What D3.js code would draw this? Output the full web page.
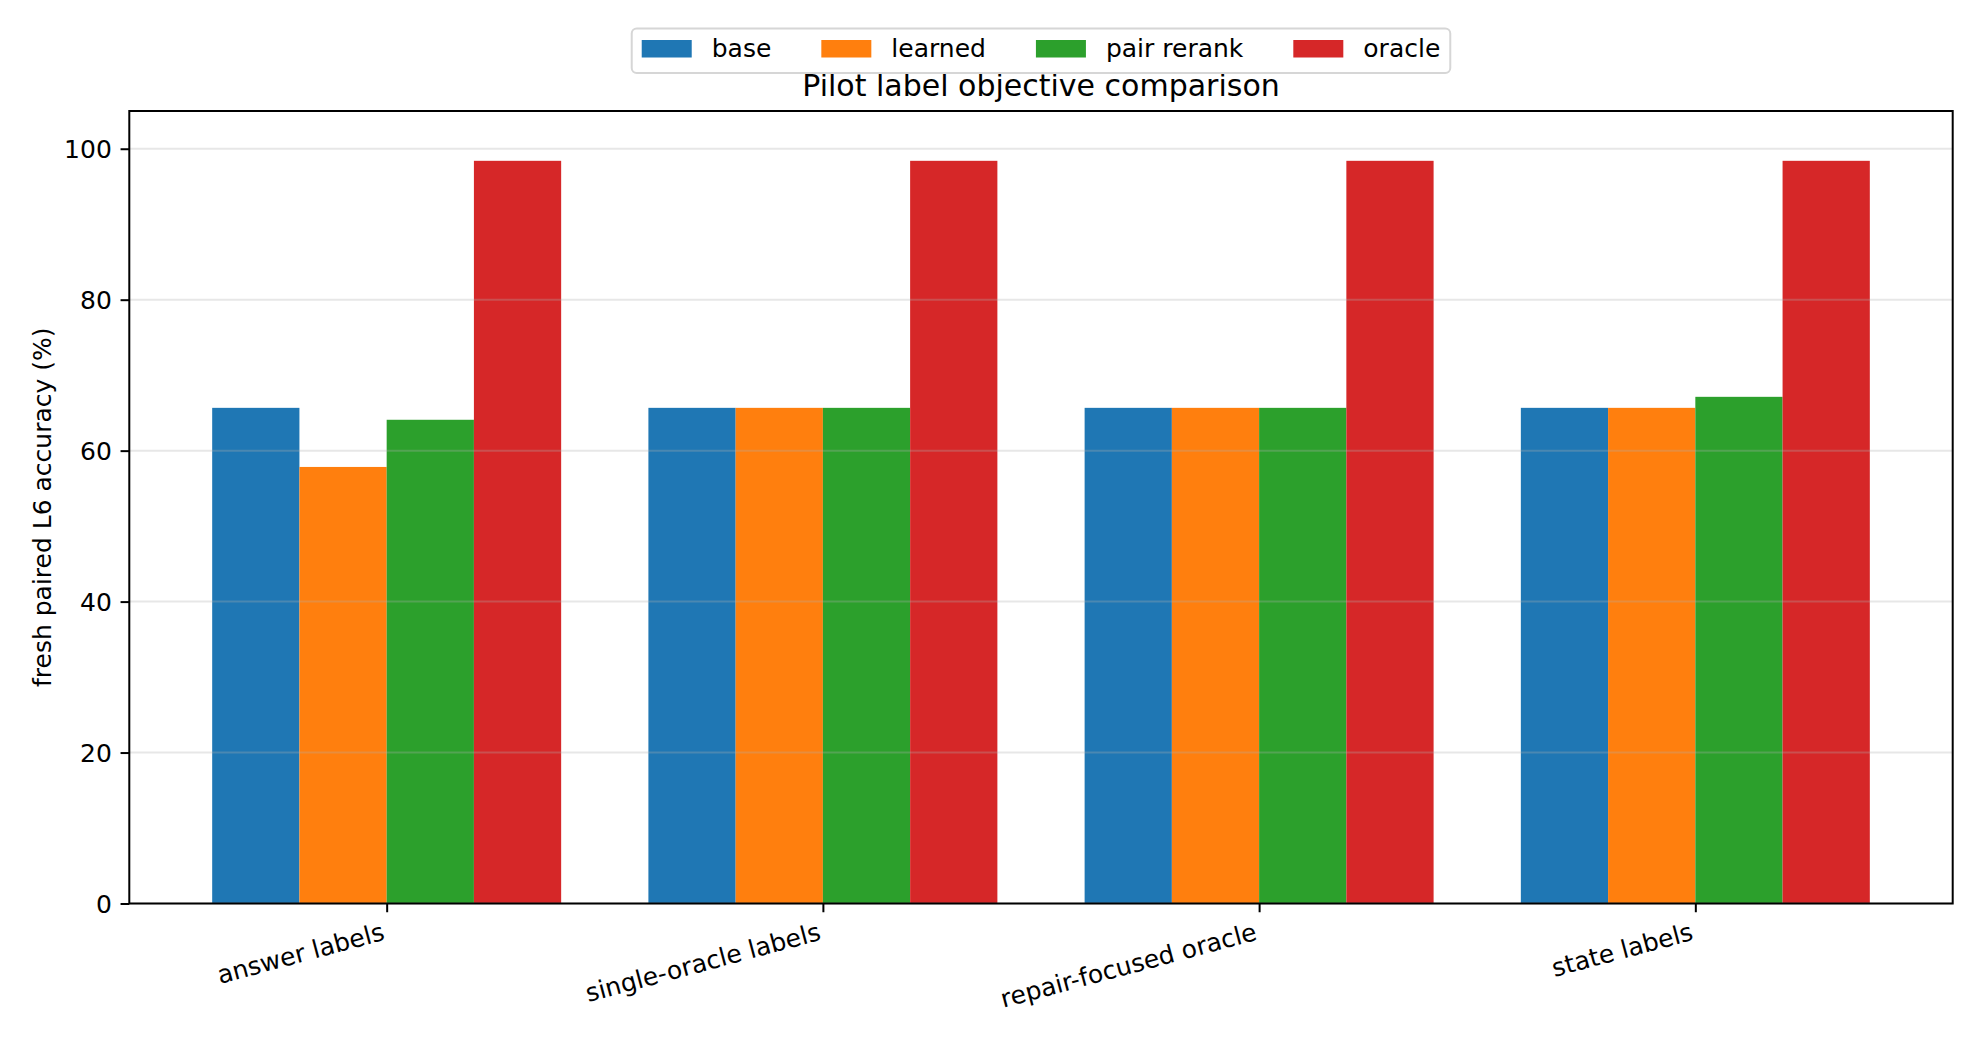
<!DOCTYPE html>
<html>
<head>
<meta charset="utf-8">
<script src="https://cdn.jsdelivr.net/npm/d3@7"></script>
<style>
  html, body { margin: 0; padding: 0; background: #fff; }
  svg text { font-family: "DejaVu Sans", sans-serif; fill: #000; }
</style>
</head>
<body>
<div class="chart"></div>
<script>
"use strict";
var categories = ["answer labels", "single-oracle labels", "repair-focused oracle", "state labels"];
var seriesNames = ["base", "learned", "pair rerank", "oracle"];
var baseValues = [65.67, 65.67, 65.67, 65.67];
var learnedValues = [57.84, 65.67, 65.67, 65.67];
var pairRerankValues = [64.09, 65.67, 65.67, 67.13];
var oracleValues = [98.4, 98.4, 98.4, 98.4];
var yTicks = [0, 20, 40, 60, 80, 100];
var colors = ["#1f77b4", "#ff7f0e", "#2ca02c", "#d62728"];

var series = [baseValues, learnedValues, pairRerankValues, oracleValues];

var W = 1980, H = 1044;
var margin = { top: 111, right: 27.3, bottom: 140.5, left: 129.3 };
var width = W - margin.left - margin.right,
    height = H - margin.top - margin.bottom;
var barW = 0.2;

//scales
var x = d3.scaleLinear()
    .domain([-0.59, categories.length - 1 + 0.59])
    .range([0, width]);
var y = d3.scaleLinear()
    .domain([0, 105])
    .range([height, 0]);

var svg = d3.select(".chart").append("svg")
    .attr("width", W)
    .attr("height", H);
var g = svg.append("g")
    .attr("transform", "translate(" + margin.left + "," + margin.top + ")");

//bars
series.forEach(function(vals, j){
  g.append("g").attr("class", "series s" + j)
    .selectAll("rect")
    .data(vals)
    .enter().append("rect")
    .attr("x", function(d, i){ return x(i + (j - 1.5) * barW - barW / 2); })
    .attr("width", x(barW) - x(0))
    .attr("y", function(d){ return y(d); })
    .attr("height", function(d){ return y(0) - y(d); })
    .style("fill", colors[j]);
});

//grid drawn over the bars, like the original
g.append("g").attr("class", "grid")
  .selectAll("line")
  .data(yTicks)
  .enter().append("line")
  .attr("x1", 0)
  .attr("x2", width)
  .attr("y1", function(d){ return y(d); })
  .attr("y2", function(d){ return y(d); })
  .style("stroke", "#b0b0b0")
  .style("stroke-opacity", 0.3)
  .style("stroke-width", 2);

//y axis
var yAxis = d3.axisLeft(y)
    .tickValues(yTicks)
    .tickSizeInner(8.75)
    .tickSizeOuter(0)
    .tickPadding(8.75);
var yg = g.append("g").attr("class", "y axis").call(yAxis);
yg.select(".domain").remove();
yg.selectAll(".tick line").style("stroke", "#000").style("stroke-width", 2);
yg.selectAll(".tick text").style("font-size", "25px").style("font-family", "DejaVu Sans").attr("dy", "0.35em");

//x axis
var xAxis = d3.axisBottom(x)
    .tickValues(d3.range(categories.length))
    .tickSizeInner(8.75)
    .tickSizeOuter(0)
    .tickFormat(function(d){ return categories[d]; });
var xg = g.append("g").attr("class", "x axis")
    .attr("transform", "translate(0," + height + ")")
    .call(xAxis);
xg.select(".domain").remove();
xg.selectAll(".tick line").style("stroke", "#000").style("stroke-width", 2);
xg.selectAll(".tick text")
    .style("font-size", "25px")
    .style("font-family", "DejaVu Sans")
    .attr("text-anchor", "end")
    .attr("y", null)
    .attr("dy", null)
    .attr("transform", "translate(-1.4,36) rotate(-15)");

//frame
g.append("rect")
  .attr("class", "frame")
  .attr("width", width)
  .attr("height", height)
  .style("fill", "none")
  .style("stroke", "#000")
  .style("stroke-width", 2);

//title
g.append("text")
  .attr("x", width / 2)
  .attr("y", -15.5)
  .attr("text-anchor", "middle")
  .style("font-size", "30px")
  .text("Pilot label objective comparison");

//y label
svg.append("text")
  .attr("transform", "translate(50.5," + (margin.top + height / 2) + ") rotate(-90)")
  .attr("text-anchor", "middle")
  .style("font-size", "25px")
  .text("fresh paired L6 accuracy (%)");

//legend
var fs = 25, pad = 0.4 * fs, handleLen = 2 * fs, handleTxt = 0.8 * fs, colSpace = 2 * fs;
var legend = svg.append("g").attr("class", "legend");
var frame = legend.append("rect");
var cx = 0, items = [];
seriesNames.forEach(function(name, j){
  var item = legend.append("g").attr("transform", "translate(" + cx + ",0)");
  item.append("rect")
    .attr("x", 0).attr("y", 11.5)
    .attr("width", handleLen).attr("height", 0.7 * fs)
    .style("fill", colors[j]);
  var t = item.append("text")
    .attr("x", handleLen + handleTxt)
    .attr("y", 28.5)
    .style("font-size", fs + "px")
    .text(name);
  cx += handleLen + handleTxt + t.node().getComputedTextLength();
  if (j < seriesNames.length - 1) cx += colSpace;
});
var legW = cx + 2 * pad;
frame
  .attr("x", -pad).attr("y", 0)
  .attr("width", legW).attr("height", 44.5)
  .attr("rx", 5).attr("ry", 5)
  .style("fill", "#fff")
  .style("stroke", "#d6d6d6")
  .style("stroke-width", 2);
legend.attr("transform", "translate(" + (margin.left + width / 2 - legW / 2 + pad) + ",28.5)");
</script>
</body>
</html>
